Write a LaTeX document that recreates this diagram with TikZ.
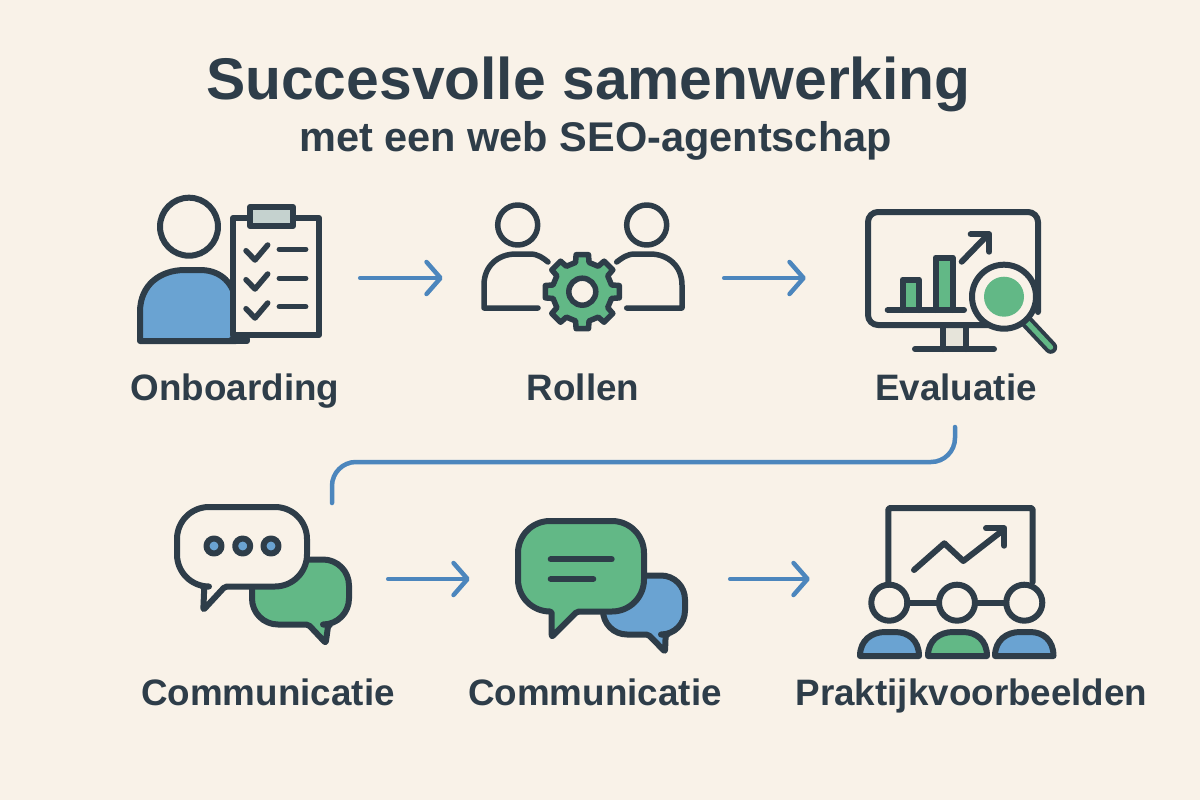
\documentclass[tikz,border=0pt]{standalone}
\usepackage{fontspec}
\setmainfont{Liberation Sans}
\usetikzlibrary{arrows.meta}
\definecolor{sheet}{HTML}{F9F2E8}
\definecolor{ink}{HTML}{2E3D49}
\definecolor{bluefill}{HTML}{6AA3D2}
\definecolor{greenfill}{HTML}{62B886}
\definecolor{flowblue}{HTML}{4C86BD}
\definecolor{clipgrey}{HTML}{C5D2CF}
\definecolor{standgrey}{HTML}{E6E4DA}
\tikzset{
	icon/.style={draw=ink,line width=6pt,line join=round,line cap=round},
	thinicon/.style={icon,line width=5.5pt},
	flow/.style={draw=flowblue,line width=4.5pt,line cap=round,-{Straight Barb[length=14pt,width=32pt,round]}},
	bendline/.style={draw=flowblue,line width=4.5pt,line cap=round,rounded corners=24pt},
	steptext/.style={text=ink,font=\fontsize{36.8}{40}\selectfont\bfseries,inner sep=0pt,anchor=base},
	iconbox/.style={inner sep=0pt,minimum height=100pt},
	tailtip/.style={rounded corners=2pt},
}
\begin{document}
\begin{tikzpicture}[x=1pt,y=-1pt]

	\fill[sheet] (0,0) rectangle (1200,800);
	\useasboundingbox (0,0) rectangle (1200,800);

	\node[text=ink,font=\fontsize{58.8}{60}\selectfont\bfseries,inner sep=0pt,anchor=base] (title) at (588.5,99.3) {Succesvolle samenwerking};
	\node[text=ink,font=\fontsize{41.5}{44}\selectfont\bfseries,inner sep=0pt,anchor=base] (subtitle) at (595.5,151.7) {met een web SEO-agentschap};

	\node[iconbox,minimum width=240pt] (onboardicon) at (240,278) {};
	\node[iconbox,minimum width=281pt] (rollenicon) at (583.5,278) {};
	\node[iconbox,minimum width=240pt] (evalicon) at (926,278) {};
	\node[iconbox,minimum width=260pt] (commaicon) at (258,579) {};
	\node[iconbox,minimum width=260pt] (commbicon) at (600,579) {};
	\node[iconbox,minimum width=240pt] (prakticon) at (930,579) {};

	\node[steptext] (onboardlabel) at (235,400) {Onboarding};
	\node[steptext] (rollenlabel) at (583,400) {Rollen};
	\node[steptext] (evallabel) at (956,400) {Evaluatie};
	\node[steptext] (commalabel) at (268,705.7) {Communicatie};
	\node[steptext] (commblabel) at (595,705.7) {Communicatie};
	\node[steptext] (praktlabel) at (971.5,705.7) {Praktijkvoorbeelden};

	\draw[flow] (onboardicon.east) -- (rollenicon.west);
	\draw[flow] (rollenicon.east) -- (evalicon.west);
	\draw[flow] (commaicon.east) -- (commbicon.west);
	\draw[flow] (commbicon.east) -- (prakticon.west);
	\coordinate (bendstart) at (955,427);
	\coordinate (bendend) at (332,503);
	\draw[bendline] (bendstart) -- (955,462) -- (332,462) -- (bendend);

	\draw[icon,fill=bluefill] (140,341) -- (140,312) .. controls (140,285) and (160,270) .. (185,270) -- (200,270) .. controls (218,270) and (232,280) .. (236,300) -- (236,341) -- cycle;
	\draw[icon,fill=ink] (232,339) rectangle (247,341);
	\draw[icon,fill=sheet] (233,218) rectangle (319,335);
	\draw[icon,fill=clipgrey] (250,207) rectangle (293,226);
	\draw[icon,fill=none] (189,226.7) circle (29);
	\draw[thinicon] (246,250.7) -- (255,260) -- (267.7,245);
	\draw[thinicon] (246,279.7) -- (255,289) -- (267.7,274);
	\draw[thinicon] (246,308.7) -- (255,318) -- (267.7,303);
	\draw[thinicon] (279.3,249.3) -- (305.7,249.3);
	\draw[thinicon] (279.3,278.3) -- (305.7,278.3);
	\draw[thinicon] (279.3,306.7) -- (305.7,306.7);

	\draw[thinicon] (517.7,225) circle (20);
	\draw[thinicon] (646.7,225) circle (20);
	\draw[thinicon] (538,308) -- (484,308) -- (484,285) .. controls (484,266) and (498,254) .. (516,254) -- (530,254) .. controls (538,254) and (543,258) .. (548,262);
	\draw[thinicon] (626.7,308) -- (682,308) -- (682,285) .. controls (682,266) and (668,254) .. (650,254) -- (635,254) .. controls (627,254) and (622,258) .. (616.7,262);
	\coordinate (gearmid) at (582.3,291.7);
	\draw[thinicon,fill=greenfill] ([shift={(-13:30)}]gearmid) \foreach \a in {0,45,...,315} { -- ([shift={(\a-13:30)}]gearmid) -- ([shift={(\a-9.5:37.5)}]gearmid) -- ([shift={(\a+9.5:37.5)}]gearmid) -- ([shift={(\a+13:30)}]gearmid) } -- cycle;
	\draw[thinicon,fill=sheet] (gearmid) circle (13.5);

	\fill[standgrey] (945,327) rectangle (963,349);
	\draw[icon] (942.7,327) -- (942.7,349);
	\draw[icon] (965.7,327) -- (965.7,349);
	\draw[icon] (915,349) -- (994,349);
	\draw[icon,rounded corners=10pt] (1000,325) -- (868,325) -- (868,212) -- (1038,212) -- (1038,312);
	\draw[icon,fill=greenfill] (902.5,310) -- (902.5,279.5) -- (919,279.5) -- (919,310);
	\draw[icon,fill=greenfill] (935.5,310) -- (935.5,257.5) -- (952.5,257.5) -- (952.5,310);
	\draw[icon] (887.7,310) -- (964,310);
	\draw[icon] (961.7,261.7) -- (988.3,234.3);
	\draw[icon] (970.7,234.3) -- (989.3,234.3) -- (989.3,251.7);
	\draw[icon,line width=13pt] (1027,322) -- (1050.7,347.3);
	\draw[draw=greenfill,line width=5pt,line cap=round] (1027,322) -- (1050.7,347.3);
	\draw[icon,fill=sheet] (1004,296.7) circle (32);
	\fill[greenfill] (1004,296.7) circle (20);

	\draw[icon,fill=greenfill,rounded corners=26pt] (308.3,624.5) -- (252,624.5) -- (252,559.5) -- (349,559.5) -- (349,624.5) [tailtip] -- (328.3,624.5) -- (325.7,643) -- cycle;
	\draw[icon,fill=sheet,rounded corners=32pt] (204.3,586.5) -- (177,586.5) -- (177,507) -- (307,507) -- (307,586.5) [tailtip] -- (225,586.5) -- (203.3,610) -- cycle;
	\draw[icon,fill=bluefill] (214,546) circle (7.5);
	\draw[icon,fill=bluefill] (242.7,546) circle (7.5);
	\draw[icon,fill=bluefill] (271,546) circle (7.5);

	\draw[icon,fill=bluefill,rounded corners=24pt] (648.3,634.5) -- (603,634.5) -- (603,575.5) -- (685,575.5) -- (685,634.5) [tailtip] -- (665.7,634.5) -- (665,651.7) -- cycle;
	\draw[icon,fill=greenfill,rounded corners=32pt] (551.7,611.5) -- (518,611.5) -- (518,521) -- (644,521) -- (644,611.5) [tailtip] -- (577,611.5) -- (551.7,637) -- cycle;
	\draw[icon] (550.7,559.3) -- (611.7,559.3);
	\draw[icon] (550.7,579) -- (593.3,579);

	\draw[icon,rounded corners=2pt] (888.3,582) -- (888.3,508) -- (1032.7,508) -- (1032.7,582);
	\draw[icon] (914,570) -- (944.3,543.3) -- (963.3,561) -- (1003.3,530);
	\draw[icon] (986,528.3) -- (1004.3,528.3) -- (1004.3,545.7);
	\draw[icon] (889.3,602.7) circle (18);
	\draw[icon] (957,602.7) circle (18);
	\draw[icon] (1024.3,602.7) circle (18);
	\draw[icon] (907.3,602.7) -- (939,602.7);
	\draw[icon] (975,602.7) -- (1006.3,602.7);
	\draw[icon,fill=bluefill] (860,656) .. controls (860,640) and (872,632) .. (885,632) -- (895,632) .. controls (908,632) and (919,640) .. (919,656) -- cycle;
	\draw[icon,fill=greenfill] (928,656) .. controls (928,640) and (940,632) .. (953,632) -- (963,632) .. controls (976,632) and (987,640) .. (987,656) -- cycle;
	\draw[icon,fill=bluefill] (995,656) .. controls (995,640) and (1007,632) .. (1020,632) -- (1030,632) .. controls (1043,632) and (1053.5,640) .. (1053.5,656) -- cycle;

\end{tikzpicture}
\end{document}
